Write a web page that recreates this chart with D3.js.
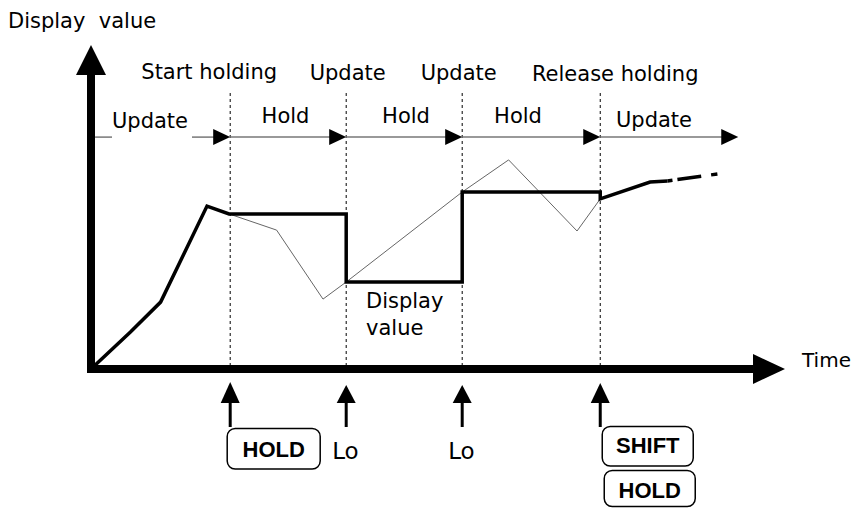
<!DOCTYPE html>
<html>
<head>
<meta charset="utf-8">
<script src="https://cdn.jsdelivr.net/npm/d3@7"></script>
<style>
  html, body { margin: 0; padding: 0; background: #fff; }
  svg text { font-family: "DejaVu Sans", sans-serif; fill: #000; }
  .key { font-family: "Liberation Sans", Arial, sans-serif; font-weight: bold; }
</style>
</head>
<body>
<svg id="chart" width="858" height="508"></svg>
<script>
// ---- data ----
const phaseLabels = ["Update", "Hold", "Hold", "Hold", "Update"];
const phaseStartT = [0.35, 12, 22, 32, 43.9];
const phaseEndT   = [12, 22, 32, 43.9, 55.8];
const eventLabels = ["Start holding", "Update", "Update", "Release holding"];
const eventT      = [12, 22, 32, 43.9];
const eventKeys   = [["HOLD"], ["Lo"], ["Lo"], ["SHIFT", "HOLD"]];

// display value (thick line)
const displayT = [0, 3.4, 6, 10, 11.9, 22, 22, 32, 32, 43.9, 43.9, 48.2, 49.7];
const displayV = [0, 12.3, 22.3, 54.3, 51.7, 51.7, 29, 29, 59, 59, 56.7, 62.3, 62.7];
const trailT   = [49.7, 54];
const trailV   = [62.7, 65];
// actual value (thin line)
const actualT = [11.9, 16, 20, 22, 32, 36, 41.9, 43.9];
const actualV = [51.7, 46.3, 23.3, 29, 59, 69.7, 46, 56.7];

// ---- layout ----
const svg = d3.select("#chart");
const x = d3.scaleLinear().domain([0, 60]).range([91, 787]);
const y = d3.scaleLinear().domain([0, 100]).range([369, 69]);
const rowV = 77.3;            // level of phase arrows
const vTop = 92;              // top of dashed event lines

const line = d3.line().x(d => x(d[0])).y(d => y(d[1]));

// dashed event lines
svg.selectAll(".evline").data(eventT).join("line")
  .attr("x1", d => x(d)).attr("x2", d => x(d))
  .attr("y1", y(vTop)).attr("y2", y(0))
  .attr("stroke", "#000").attr("stroke-width", 1).attr("stroke-dasharray", "3,3");

// phase arrows
const rowY = y(rowV);
phaseStartT.forEach((s, i) => {
  const e = phaseEndT[i];
  if (i === 0) {
    svg.append("line").attr("x1", x(s)).attr("x2", 112).attr("y1", rowY).attr("y2", rowY)
      .attr("stroke", "#777").attr("stroke-width", 1.5);
    svg.append("line").attr("x1", 192).attr("x2", x(e) - 10).attr("y1", rowY).attr("y2", rowY)
      .attr("stroke", "#777").attr("stroke-width", 1.5);
  } else {
    svg.append("line").attr("x1", x(s)).attr("x2", x(e) - 10).attr("y1", rowY).attr("y2", rowY)
      .attr("stroke", "#777").attr("stroke-width", 1.5);
  }
  const tx = x(e);
  svg.append("path")
    .attr("d", `M${tx},${rowY} L${tx - 17},${rowY - 8} L${tx - 17},${rowY + 8} Z`)
    .attr("fill", "#000");
});

// phase labels
const phaseLabelX = [150, 285.5, 406, 518, 654];
const phaseLabelY = [128, 123, 123, 123, 127];
phaseLabels.forEach((t, i) => {
  svg.append("text").attr("x", phaseLabelX[i]).attr("y", phaseLabelY[i])
    .attr("text-anchor", "middle").attr("font-size", 21).text(t);
});

// event labels
const eventDx = [-21, 1.5, -3.5, 15];
const eventY = [79, 80, 80, 81];
eventLabels.forEach((t, i) => {
  svg.append("text").attr("x", x(eventT[i]) + eventDx[i]).attr("y", eventY[i])
    .attr("text-anchor", "middle").attr("font-size", 21).text(t);
});

// actual value line (thin)
svg.append("path").datum(actualT.map((t, i) => [t, actualV[i]]))
  .attr("d", line).attr("fill", "none").attr("stroke", "#666").attr("stroke-width", 1);

// display value line (thick)
svg.append("path").datum(displayT.map((t, i) => [t, displayV[i]]))
  .attr("d", line).attr("fill", "none").attr("stroke", "#000")
  .attr("stroke-width", 3.5).attr("stroke-linejoin", "miter");
svg.append("path").datum(trailT.map((t, i) => [t, trailV[i]]))
  .attr("d", line).attr("fill", "none").attr("stroke", "#000")
  .attr("stroke-width", 3.5).attr("stroke-dasharray", "5,5,24,10,12,30");

// axes
svg.append("line").attr("x1", x(0)).attr("x2", x(0)).attr("y1", y(0) + 4).attr("y2", y(98))
  .attr("stroke", "#000").attr("stroke-width", 8);
svg.append("path")
  .attr("d", `M${x(0)},${y(108)} L${x(0) - 15},${y(98)} L${x(0) + 15},${y(98)} Z`).attr("fill", "#000");
svg.append("line").attr("x1", x(0) - 4).attr("x2", x(57.1)).attr("y1", y(0)).attr("y2", y(0))
  .attr("stroke", "#000").attr("stroke-width", 8);
svg.append("path")
  .attr("d", `M${x(59.83)},${y(0)} L${x(57.07)},${y(0) - 15} L${x(57.07)},${y(0) + 15} Z`).attr("fill", "#000");

// axis titles
svg.append("text").attr("x", 8).attr("y", 28).attr("font-size", 21)
  .style("white-space", "pre").text("Display  value");
svg.append("text").attr("x", 802).attr("y", 367).attr("font-size", 20).text("Time");

// inner label
svg.append("text").attr("x", 366).attr("y", 308).attr("font-size", 21).text("Display");
svg.append("text").attr("x", 366).attr("y", 335).attr("font-size", 21).text("value");

// bottom arrows
const tipY = [382, 385, 385, 383];
eventT.forEach((t, i) => {
  const ax = x(t);
  svg.append("line").attr("x1", ax).attr("x2", ax).attr("y1", 400).attr("y2", 427)
    .attr("stroke", "#000").attr("stroke-width", 3);
  svg.append("path")
    .attr("d", `M${ax},${tipY[i]} L${ax - 9.5},${403} L${ax + 9.5},${403} Z`).attr("fill", "#000");
});

// key boxes and labels
function keyBox(cx, top, w, h, label, baseline) {
  svg.append("rect").attr("x", cx - w / 2).attr("y", top).attr("width", w).attr("height", h)
    .attr("rx", 8).attr("ry", 8).attr("fill", "#fff").attr("stroke", "#000").attr("stroke-width", 1.5);
  svg.append("text").attr("class", "key").attr("x", cx).attr("y", baseline)
    .attr("text-anchor", "middle").attr("font-size", 22).text(label);
}
// HOLD at first event
keyBox(x(eventT[0]) + 43.5, 428.5, 93, 40.5, eventKeys[0][0], 457);
// Lo labels
svg.append("text").attr("x", x(eventT[1]) - 14).attr("y", 459).attr("font-size", 23).text(eventKeys[1][0]);
svg.append("text").attr("x", x(eventT[2]) - 14).attr("y", 459).attr("font-size", 23).text(eventKeys[2][0]);
// SHIFT / HOLD at release
keyBox(x(eventT[3]) + 47.5, 426.5, 91, 39.5, eventKeys[3][0], 453);
keyBox(x(eventT[3]) + 49.5, 470.5, 91, 36, eventKeys[3][1], 498);
</script>
</body>
</html>
